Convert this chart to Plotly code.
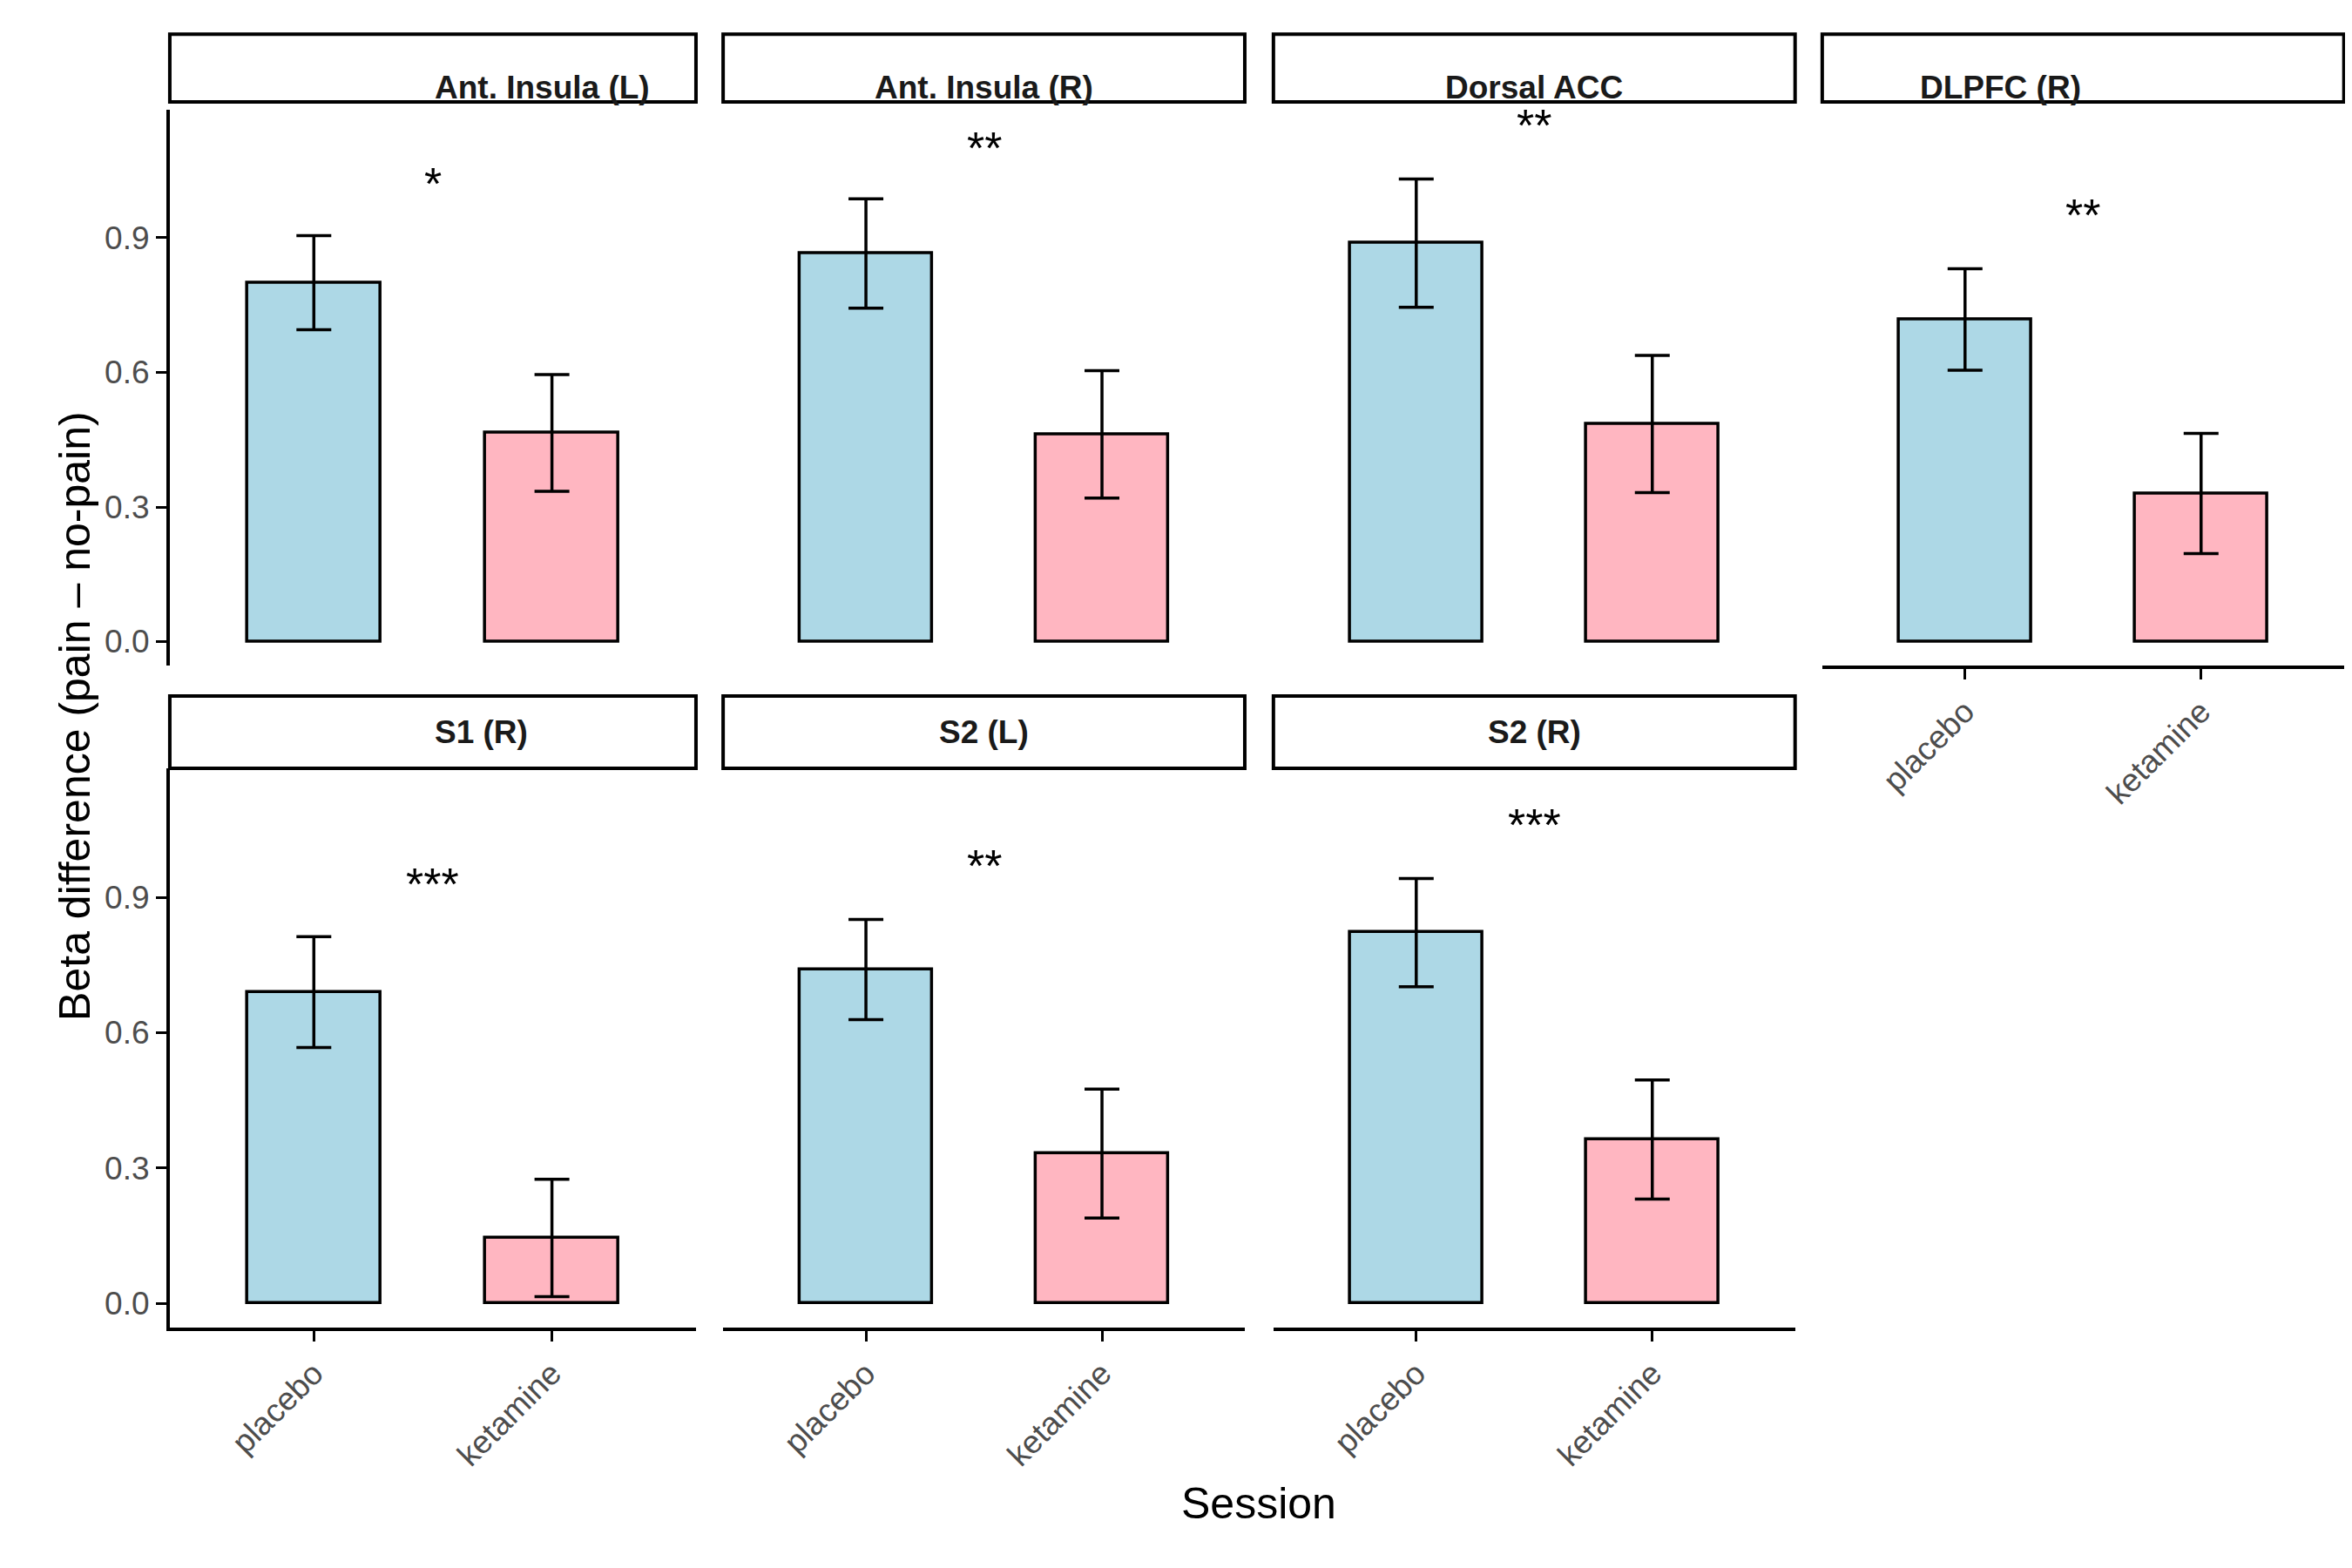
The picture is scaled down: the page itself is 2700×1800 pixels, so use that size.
import plotly.graph_objects as go

regions = ["Ant. Insula (L)", "Ant. Insula (R)", "Dorsal ACC", "DLPFC (R)", "S1 (R)", "S2 (L)", "S2 (R)"]
sessions = ["placebo", "ketamine"]
placebo_mean = [0.80, 0.865, 0.888, 0.718, 0.69, 0.74, 0.822]
placebo_se = [0.105, 0.122, 0.143, 0.113, 0.123, 0.111, 0.12]
ketamine_mean = [0.465, 0.462, 0.485, 0.33, 0.145, 0.332, 0.363]
ketamine_se = [0.13, 0.142, 0.153, 0.134, 0.13, 0.143, 0.132]
stars = ["*", "**", "**", "**", "***", "**", "***"]
star_y = [1.02, 1.10, 1.15, 0.95, 0.93, 0.97, 1.06]

W, H = 1560.0, 1040.0
cols = [(108, 457), (475, 821), (840, 1186), (1204, 1550)]
rows = [(68, 437), (505, 876)]
strip_tops = [18, 457]

fig = go.Figure()
shapes, annotations = [], []
FONT = "Liberation Sans, Arial, sans-serif"
for i, reg in enumerate(regions):
    r, c = divmod(i, 4)
    n = i + 1
    x0, x1 = cols[c]
    y0, y1 = rows[r]
    fig.add_trace(go.Bar(
        x=sessions, y=[placebo_mean[i], ketamine_mean[i]],
        marker=dict(color=["#ADD8E6", "#FFB6C1"], line=dict(color="black", width=3.5)),
        width=0.56,
        error_y=dict(type="data", array=[placebo_se[i], ketamine_se[i]], color="black", thickness=3.5, width=20),
        xaxis=f"x{n}", yaxis=f"y{n}", showlegend=False))
    xname = "xaxis" if n == 1 else f"xaxis{n}"
    yname = "yaxis" if n == 1 else f"yaxis{n}"
    bottom = (r == 1) or (c == 3)
    left = (c == 0)
    fig.layout[xname] = dict(domain=[x0 / W, x1 / W], anchor=f"y{n}", range=[-0.605, 1.605],
                             showline=bottom, linecolor="black", linewidth=4,
                             showticklabels=bottom, ticks="outside" if bottom else "",
                             ticklen=12, tickwidth=3, tickcolor="black", tickangle=-45,
                             tickfont=dict(size=37, color="#4d4d4d", family=FONT), showgrid=False, zeroline=False)
    fig.layout[yname] = dict(domain=[1 - y1 / H, 1 - y0 / H], anchor=f"x{n}", range=[-0.054, 1.186],
                             showline=left, linecolor="black", linewidth=4,
                             showticklabels=left, ticks="outside" if left else "",
                             ticklen=12, tickwidth=3, tickcolor="black",
                             tickvals=[0, 0.3, 0.6, 0.9], ticktext=["0.0", "0.3", "0.6", "0.9"],
                             tickfont=dict(size=37, color="#4d4d4d", family=FONT), showgrid=False, zeroline=False)
    st = strip_tops[r]
    sb = y0 - 5 if r == 0 else y0
    shapes.append(dict(type="rect", xref="paper", yref="paper", x0=x0 / W, x1=x1 / W,
                       y0=1 - sb / H, y1=1 - st / H, line=dict(color="black", width=4), fillcolor="white"))
    annotations.append(dict(xref="paper", yref="paper", x=(x0 + x1) / 2 / W, y=1 - (st + sb) / 2 / H,
                            text=f"<b>{reg}</b>", showarrow=False, font=dict(size=37, color="#1a1a1a", family=FONT)))
    annotations.append(dict(xref=f"x{n}", yref=f"y{n}", x=0.5, y=star_y[i], text=stars[i], showarrow=False,
                            font=dict(size=52, color="black", family=FONT)))

annotations.append(dict(xref="paper", yref="paper", x=830 / W, y=1 - 1010 / H, text="Session", showarrow=False,
                        font=dict(size=50, color="black", family=FONT)))
annotations.append(dict(xref="paper", yref="paper", x=28 / W, y=1 - 470 / H, text="Beta difference (pain – no-pain)",
                        textangle=-90, showarrow=False, font=dict(size=50, color="black", family=FONT)))

fig.update_layout(width=2700, height=1800, margin=dict(l=0, r=0, t=0, b=0),
                  plot_bgcolor="white", paper_bgcolor="white", shapes=shapes, annotations=annotations,
                  bargap=0)
fig.write_html("out.html")
